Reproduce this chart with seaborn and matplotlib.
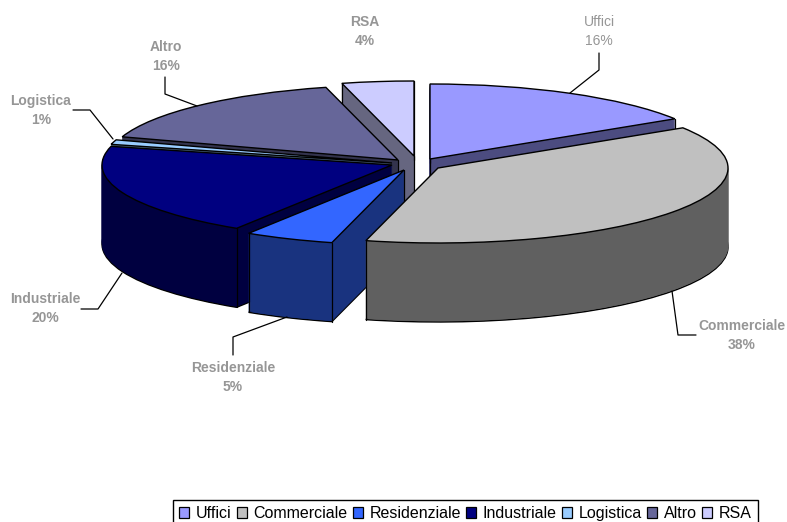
import numpy as np
import matplotlib
matplotlib.use("Agg")
import matplotlib.pyplot as plt
from matplotlib.patches import Patch
import seaborn as sns

# ---- data ----
categories = ["Uffici", "Commerciale", "Residenziale", "Industriale", "Logistica", "Altro", "RSA"]
shares = [16, 38, 5, 20, 1, 16, 4]

# ---- style ----
top_colors = ["#9999FF", "#C0C0C0", "#3366FF", "#000080", "#99CCFF", "#666699", "#CCCCFF"]
side_colors = ["#4C4C80", "#606060", "#19337F", "#000040", "#4C6680", "#33334D", "#666680"]
text_grey = "#969696"

W, H = 787, 522
RX, RY, DEPTH = 290.0, 75.0, 79
CX, CY = 420.0, 160.0  # pixel origin of data coordinates

# pixel position of each slice's apex (exploded layout)
apex = {"Uffici": (430, 159), "Commerciale": (438, 168), "Residenziale": (404, 170),
        "Industriale": (392, 165), "Logistica": (392, 163), "Altro": (398, 160), "RSA": (414, 156)}
draw_order = ["RSA", "Uffici", "Altro", "Logistica", "Industriale", "Residenziale", "Commerciale"]
# which vertical edges are visible for each slice: first corner, last corner, apex
visible_edges = {"RSA": (True, True, True), "Uffici": (True, True, True),
                 "Altro": (False, False, True), "Logistica": (False, False, False),
                 "Industriale": (True, False, False), "Residenziale": (True, True, True),
                 "Commerciale": (False, True, False)}

sns.set_theme(style="white")
plt.rcParams["font.family"] = ["Liberation Sans", "DejaVu Sans"]

fig = plt.figure(figsize=(W / 100, H / 100), dpi=100, facecolor="white")
ax = fig.add_axes([0, 0, 1, 1])


def dx(px):
    return (px - CX) / RX


def dy(py):
    return (CY - py) / RY


def one_slice(i, center, face, edge, lw, z):
    wedges, _ = ax.pie(shares, colors=top_colors, startangle=90, counterclock=False,
                       center=center, radius=1, normalize=True)
    for j, w in enumerate(wedges):
        if j == i:
            w.set_facecolor(face)
            w.set_edgecolor(edge)
            w.set_linewidth(lw)
            w.set_zorder(z)
        else:
            w.remove()


total = sum(shares)
cum = np.cumsum([0] + shares) / total * 360.0
z = 1.0
for name in draw_order:
    i = categories.index(name)
    ax_px, ay_px = apex[name]
    # bottom face with outline
    one_slice(i, (dx(ax_px), dy(ay_px + DEPTH)), side_colors[i], "black", 1.0, z)
    z += 0.001
    # extruded wall
    for d in range(DEPTH - 1, 0, -1):
        one_slice(i, (dx(ax_px), dy(ay_px + d)), side_colors[i], side_colors[i], 0.4, z)
        z += 0.001
    # vertical edges at slice corners
    first, last, at_apex = visible_edges[name]
    for t, show in ((cum[i], first), (cum[i + 1], last)):
        if show:
            tr = np.radians(t)
            x = ax_px + RX * np.sin(tr)
            y = ay_px - RY * np.cos(tr)
            ax.plot([dx(x), dx(x)], [dy(y), dy(y + DEPTH)], color="black", lw=0.9, zorder=z)
    if at_apex:
        ax.plot([dx(ax_px), dx(ax_px)], [dy(ay_px), dy(ay_px + DEPTH)], color="black", lw=0.9, zorder=z)
    z += 0.001
    # top face
    one_slice(i, (dx(ax_px), dy(ay_px)), top_colors[i], "black", 1.0, z)
    z += 0.001

ax.set_aspect("auto")
ax.set_xlim(dx(0), dx(W))
ax.set_ylim(dy(H), dy(0))
ax.axis("off")

# ---- labels and leader lines ----
label_pos = {"Uffici": (599, 22), "Commerciale": (742, 326), "Residenziale": (233, 368),
             "Industriale": (45, 299), "Logistica": (41, 101), "Altro": (166, 47), "RSA": (365, 22)}
leaders = {"Uffici": [(599, 53), (599, 70), (570, 93)],
           "Commerciale": [(672, 291), (678, 335), (696, 335)],
           "Residenziale": [(233, 355), (233, 337), (287, 317)],
           "Industriale": [(81, 309), (98, 309), (122, 273)],
           "Logistica": [(73, 110), (90, 110), (113, 139)],
           "Altro": [(165, 77), (165, 94), (197, 106)]}
for name, share in zip(categories, shares):
    lx, ly = label_pos[name]
    weight = "normal" if name == "Uffici" else "bold"
    for txt, yy in ((name, ly), (f"{share}%", ly + 19)):
        ax.text(dx(lx), dy(yy), txt, ha="center", va="center", fontsize=10,
                fontweight=weight, color=text_grey, zorder=50)
for name, pts in leaders.items():
    ax.plot([dx(p[0]) for p in pts], [dy(p[1]) for p in pts], color="black", lw=0.9, zorder=49)

# ---- legend (its lower edge runs off the bottom of the picture) ----
handles = [Patch(facecolor=c, edgecolor="black", linewidth=0.9) for c in top_colors]
leg = fig.legend(handles, categories, ncol=7, loc="lower left",
                 bbox_to_anchor=(173 / W, -5 / H), bbox_transform=fig.transFigure,
                 fontsize=11.5, frameon=True, fancybox=False, edgecolor="black", framealpha=1,
                 handlelength=0.65, handleheight=0.65, handletextpad=0.4, columnspacing=0.32,
                 borderpad=0.38, borderaxespad=0)
leg.get_frame().set_linewidth(1.0)
for t in leg.get_texts():
    t.set_color("black")

fig.savefig("out.png", dpi=100, facecolor="white")
